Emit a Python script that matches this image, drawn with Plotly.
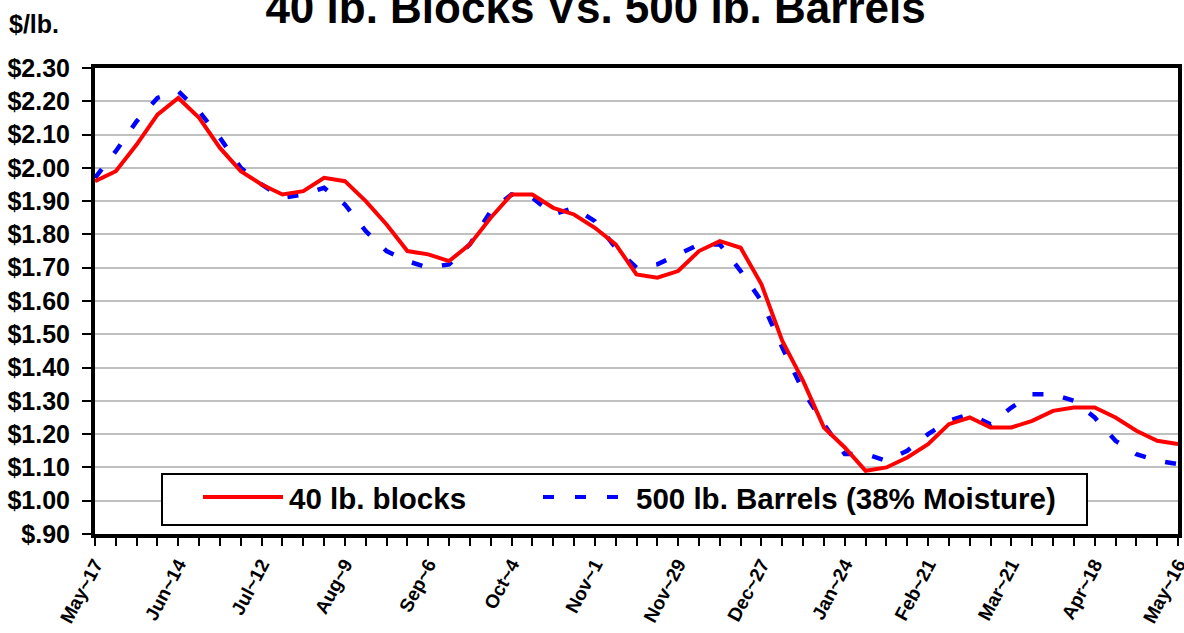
import plotly.graph_objects as go

# ---- data ----
weeks = ["May~17", "May~24", "May~31", "Jun~7", "Jun~14", "Jun~21", "Jun~28", "Jul~5",
         "Jul~12", "Jul~19", "Jul~26", "Aug~2", "Aug~9", "Aug~16", "Aug~23", "Aug~30",
         "Sep~6", "Sep~13", "Sep~20", "Sep~27", "Oct~4", "Oct~11", "Oct~18", "Oct~25",
         "Nov~1", "Nov~8", "Nov~15", "Nov~22", "Nov~29", "Dec~6", "Dec~13", "Dec~20",
         "Dec~27", "Jan~3", "Jan~10", "Jan~17", "Jan~24", "Jan~31", "Feb~7", "Feb~14",
         "Feb~21", "Feb~28", "Mar~7", "Mar~14", "Mar~21", "Mar~28", "Apr~4", "Apr~11",
         "Apr~18", "Apr~25", "May~2", "May~9", "May~16"]

blocks = [1.96, 1.99, 2.07, 2.16, 2.21, 2.15, 2.06, 1.99, 1.95, 1.92, 1.93, 1.97, 1.96,
          1.90, 1.83, 1.75, 1.74, 1.72, 1.77, 1.85, 1.92, 1.92, 1.88, 1.86, 1.82, 1.77,
          1.68, 1.67, 1.69, 1.75, 1.78, 1.76, 1.65, 1.48, 1.36, 1.22, 1.16, 1.09, 1.10,
          1.13, 1.17, 1.23, 1.25, 1.22, 1.22, 1.24, 1.27, 1.28, 1.28, 1.25, 1.21, 1.18, 1.17]

barrels = [1.97, 2.05, 2.14, 2.21, 2.23, 2.17, 2.09, 2.00, 1.95, 1.91, 1.92, 1.94, 1.89,
           1.81, 1.75, 1.72, 1.70, 1.71, 1.77, 1.87, 1.92, 1.91, 1.86, 1.88, 1.84, 1.76,
           1.70, 1.71, 1.74, 1.77, 1.77, 1.69, 1.60, 1.46, 1.33, 1.23, 1.14, 1.14, 1.12,
           1.15, 1.20, 1.24, 1.26, 1.23, 1.28, 1.32, 1.32, 1.30, 1.25, 1.18, 1.14, 1.12, 1.11]

y_tick_vals = [0.9, 1.0, 1.1, 1.2, 1.3, 1.4, 1.5, 1.6, 1.7, 1.8, 1.9, 2.0, 2.1, 2.2, 2.3]
y_tick_text = ["$.90", "$1.00", "$1.10", "$1.20", "$1.30", "$1.40", "$1.50", "$1.60",
               "$1.70", "$1.80", "$1.90", "$2.00", "$2.10", "$2.20", "$2.30"]

series_names = ["40 lb. blocks", "500 lb. Barrels (38% Moisture)"]
title_text = "40 lb. Blocks Vs. 500 lb. Barrels"
unit_text = "$/lb."

FONT = "Liberation Sans, Arial, sans-serif"

x_tick_text = [w if i % 4 == 0 else "" for i, w in enumerate(weeks)]

fig = go.Figure()
fig.add_trace(go.Scatter(x=weeks, y=barrels, mode="lines", name=series_names[1],
                         line=dict(color="#0000ff", width=4.5, dash="11px,20px"),
                         showlegend=False))
fig.add_trace(go.Scatter(x=weeks, y=blocks, mode="lines", name=series_names[0],
                         line=dict(color="#ff0000", width=4),
                         showlegend=False))

fig.update_layout(
    width=1184, height=633,
    margin=dict(l=95, r=6, t=68, b=99, autoexpand=False),
    paper_bgcolor="white", plot_bgcolor="white",
    font=dict(family=FONT, color="black", weight="bold"),
    title=dict(text=title_text, font=dict(size=44, family=FONT, color="black", weight="bold"),
               x=0.503, xref="container", xanchor="center",
               y=1 - 8 / 633, yref="container", yanchor="middle"),
)

fig.update_xaxes(
    type="category", range=[0, len(weeks) - 1], automargin=False,
    tickmode="array", tickvals=weeks, ticktext=x_tick_text,
    tickangle=-62, tickfont=dict(size=19, family=FONT, color="black", weight="bold"),
    ticks="outside", ticklen=8, tickwidth=2, tickcolor="black",
    showline=True, linewidth=4, linecolor="black", mirror=True,
    showgrid=False, zeroline=False,
)
fig.update_yaxes(
    range=[0.9, 2.3], automargin=False,
    tickmode="array", tickvals=y_tick_vals, ticktext=y_tick_text,
    tickfont=dict(size=25, family=FONT, color="black", weight="bold"),
    ticks="outside", ticklen=9, tickwidth=2, tickcolor="black", ticklabelstandoff=7,
    showline=True, linewidth=4, linecolor="black", mirror=True,
    showgrid=True, gridcolor="#c0c0c0", gridwidth=2, zeroline=False,
)

# ---- legend drawn as box with samples ----
def px_x(px):
    return (px - 95) / 1083

def px_y(py):
    return (534 - py) / 466

fig.add_shape(type="rect", xref="paper", yref="paper",
              x0=px_x(162), x1=px_x(1087), y0=px_y(525), y1=px_y(474),
              line=dict(color="black", width=2), fillcolor="white", layer="above")
fig.add_shape(type="line", xref="paper", yref="paper",
              x0=px_x(203), x1=px_x(283), y0=px_y(497), y1=px_y(497),
              line=dict(color="#ff0000", width=4), layer="above")
fig.add_shape(type="line", xref="paper", yref="paper",
              x0=px_x(543), x1=px_x(618), y0=px_y(497), y1=px_y(497),
              line=dict(color="#0000ff", width=4, dash="11px,21px"), layer="above")
fig.add_annotation(xref="paper", yref="paper", x=px_x(287), y=px_y(498),
                   xanchor="left", yanchor="middle", showarrow=False,
                   text=series_names[0],
                   font=dict(size=29.5, family=FONT, color="black", weight="bold"))
fig.add_annotation(xref="paper", yref="paper", x=px_x(634), y=px_y(498),
                   xanchor="left", yanchor="middle", showarrow=False,
                   text=series_names[1],
                   font=dict(size=29.5, family=FONT, color="black", weight="bold"))

# unit label
fig.add_annotation(xref="paper", yref="paper", x=px_x(7), y=px_y(24),
                   xanchor="left", yanchor="middle", showarrow=False,
                   text=unit_text,
                   font=dict(size=25, family=FONT, color="black", weight="bold"))

fig.write_html("out.html", config={"displayModeBar": False},
               post_script="document.body.style.margin='0';document.body.style.overflow='hidden';")
